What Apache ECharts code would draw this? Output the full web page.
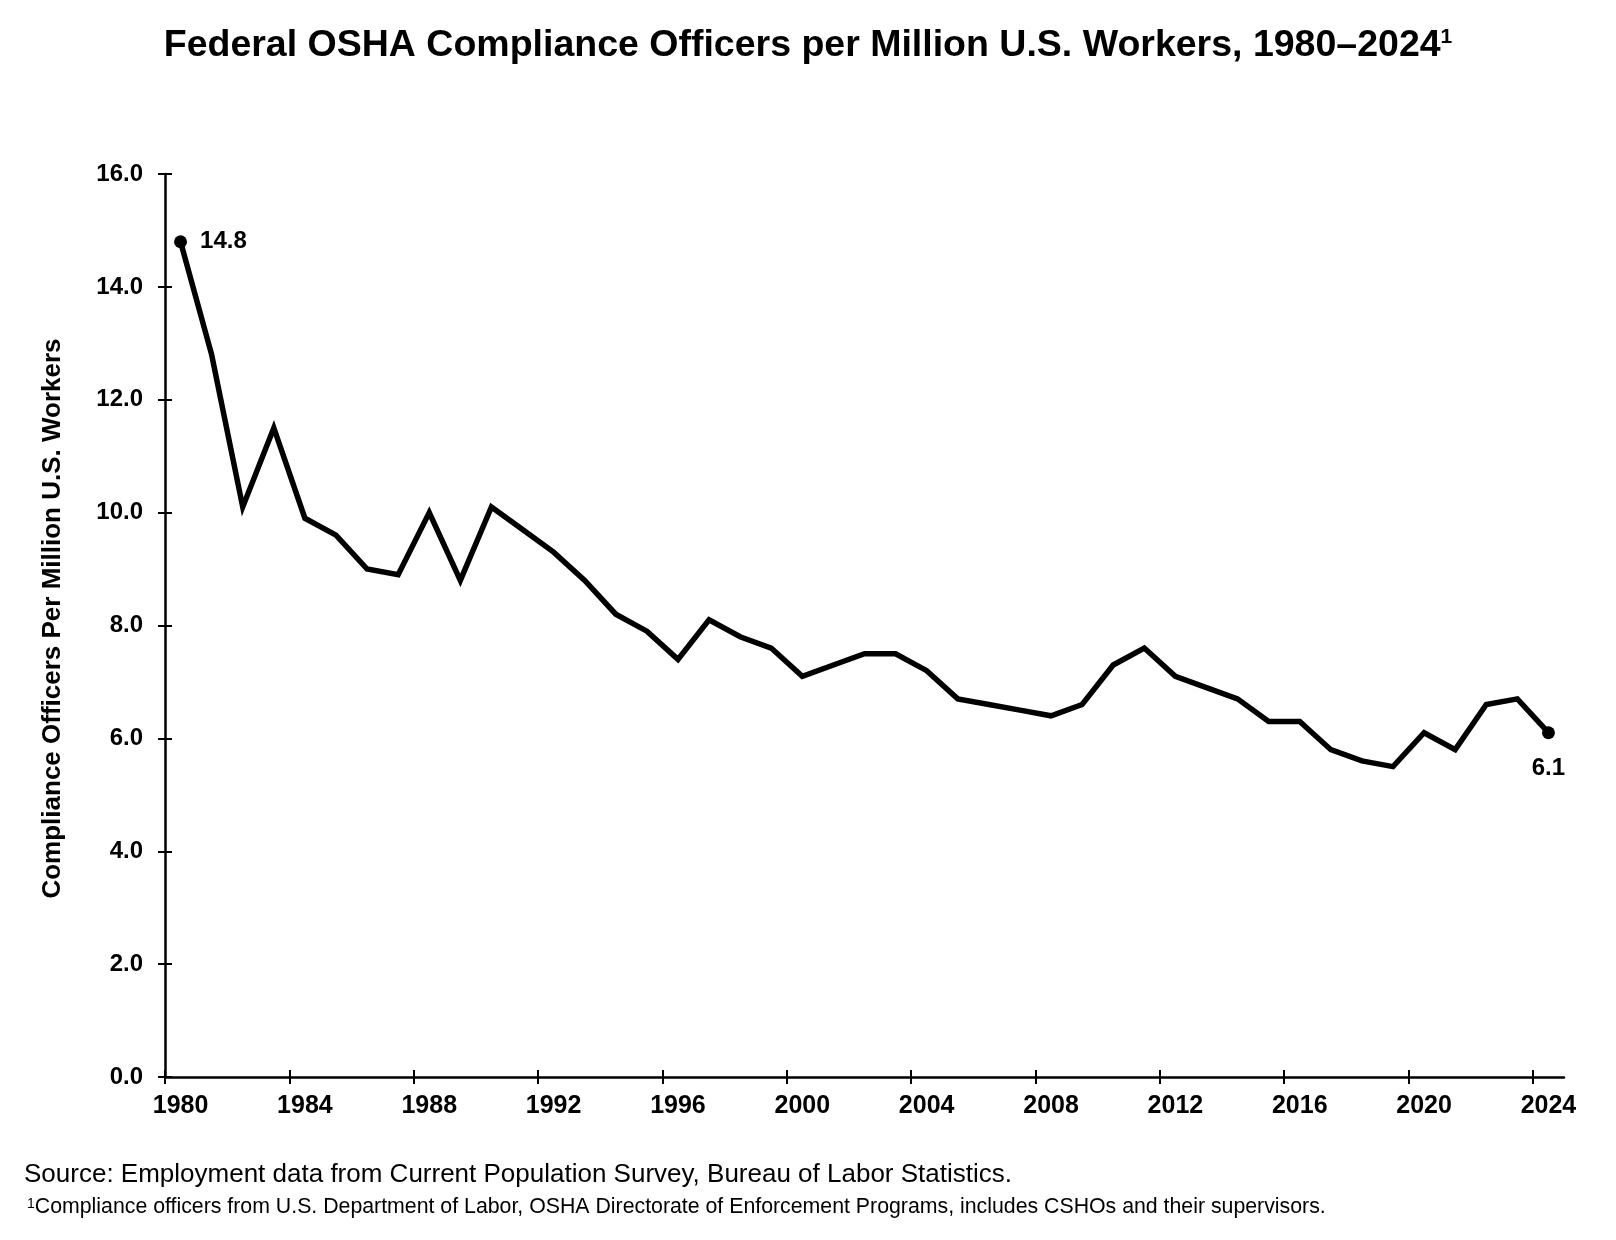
<!DOCTYPE html>
<html>
<head>
<meta charset="utf-8">
<title>Federal OSHA Compliance Officers</title>
<script src="https://cdn.jsdelivr.net/npm/echarts@6/dist/echarts.min.js"></script>
<style>
  body { margin: 0; background: #fff; }
  #chart { width: 1616px; height: 1240px; }
</style>
</head>
<body>
<div id="chart"></div>
<script>
  // data
  var years = ['1980', '1981', '1982', '1983', '1984', '1985', '1986', '1987', '1988', '1989',
    '1990', '1991', '1992', '1993', '1994', '1995', '1996', '1997', '1998', '1999',
    '2000', '2001', '2002', '2003', '2004', '2005', '2006', '2007', '2008', '2009',
    '2010', '2011', '2012', '2013', '2014', '2015', '2016', '2017', '2018', '2019',
    '2020', '2021', '2022', '2023', '2024'];
  var officersPerMillion = [14.8, 12.8, 10.1, 11.5, 9.9, 9.6, 9.0, 8.9, 10.0, 8.8,
    10.1, 9.7, 9.3, 8.8, 8.2, 7.9, 7.4, 8.1, 7.8, 7.6,
    7.1, 7.3, 7.5, 7.5, 7.2, 6.7, 6.6, 6.5, 6.4, 6.6,
    7.3, 7.6, 7.1, 6.9, 6.7, 6.3, 6.3, 5.8, 5.6, 5.5,
    6.1, 5.8, 6.6, 6.7, 6.1];
  var tickYears = [1980, 1984, 1988, 1992, 1996, 2000, 2004, 2008, 2012, 2016, 2020, 2024];
  var yTicks = [0, 2, 4, 6, 8, 10, 12, 14, 16];

  var font = 'Arial, "Liberation Sans", sans-serif';
  var last = officersPerMillion.length - 1;

  // only the first and last points get a dot and a label
  var seriesData = officersPerMillion.map(function (v, i) {
    if (i === 0) {
      return { value: v, symbolSize: 13, label: { show: true, position: 'right', distance: 13 } };
    }
    if (i === last) {
      return { value: v, symbolSize: 13, label: { show: true, position: 'bottom', distance: 17 } };
    }
    return { value: v, symbolSize: 0 };
  });

  var myChart = echarts.init(document.getElementById('chart'));
  var option = {
    backgroundColor: '#fff',
    animation: false,
    textStyle: { fontFamily: font },
    title: {
      text: 'Federal OSHA Compliance Officers per Million U.S. Workers, 1980\u20132024{sup|1}',
      left: 'center',
      top: 22,
      textStyle: {
        fontFamily: font,
        fontSize: 37.5,
        fontWeight: 'bold',
        color: '#000',
        rich: {
          sup: { fontSize: 21, fontWeight: 'bold', color: '#000', verticalAlign: 'top', fontFamily: font }
        }
      }
    },
    grid: { left: 165, right: 52, top: 174, bottom: 163 },
    xAxis: [
      {
        type: 'category',
        data: years,
        boundaryGap: true,
        axisLine: { lineStyle: { color: '#000', width: 2.5 } },
        axisTick: { show: false },
        axisLabel: {
          interval: 3,
          margin: 17,
          color: '#000',
          fontSize: 25,
          fontWeight: 'bold',
          fontFamily: font
        },
        splitLine: { show: false }
      },
      {
        // tick marks crossing the x axis at the start of every 4th year
        type: 'value',
        position: 'bottom',
        min: 1980,
        max: 2025,
        offset: -7,
        axisLine: { show: false },
        axisTick: { show: true, length: 14, customValues: tickYears, lineStyle: { color: '#000', width: 2 } },
        axisLabel: { show: false },
        splitLine: { show: false }
      }
    ],
    yAxis: [
      {
        type: 'value',
        min: 0,
        max: 16,
        interval: 2,
        name: 'Compliance Officers Per Million U.S. Workers',
        nameLocation: 'middle',
        nameGap: 99,
        nameTextStyle: { color: '#000', fontSize: 26, fontWeight: 'bold', fontFamily: font, padding: [0, 0, 0, 14] },
        axisLine: { show: true, lineStyle: { color: '#000', width: 2.5 } },
        axisTick: { show: false },
        axisLabel: {
          margin: 22,
          color: '#000',
          fontSize: 24,
          fontWeight: 'bold',
          fontFamily: font,
          formatter: function (v) { return v.toFixed(1); }
        },
        splitLine: { show: false }
      },
      {
        // crossing ticks for the y axis
        type: 'value',
        position: 'left',
        min: 0,
        max: 16,
        interval: 2,
        offset: -7,
        axisLine: { show: false },
        axisTick: { show: true, length: 14, customValues: yTicks, lineStyle: { color: '#000', width: 2 } },
        axisLabel: { show: false },
        splitLine: { show: false }
      }
    ],
    series: [
      {
        name: 'Compliance officers per million workers',
        type: 'line',
        xAxisIndex: 0,
        yAxisIndex: 0,
        data: seriesData,
        symbol: 'circle',
        showSymbol: true,
        lineStyle: { color: '#000', width: 5.5, join: 'miter' },
        itemStyle: { color: '#000' },
        label: {
          color: '#000',
          fontSize: 24,
          fontWeight: 'bold',
          fontFamily: font,
          formatter: function (p) { return p.value.toFixed(1); }
        }
      }
    ],
    graphic: [
      {
        type: 'text',
        left: 24,
        top: 1162,
        style: {
          text: 'Source: Employment data from Current Population Survey, Bureau of Labor Statistics.',
          fill: '#000',
          font: '26px ' + font
        }
      },
      {
        type: 'text',
        left: 27,
        top: 1197,
        style: {
          text: '{sup|1}Compliance officers from U.S. Department of Labor, OSHA Directorate of Enforcement Programs, includes CSHOs and their supervisors.',
          fill: '#000',
          font: '21.3px ' + font,
          rich: {
            sup: { fontSize: 14, verticalAlign: 'top', fill: '#000', fontFamily: font }
          }
        }
      }
    ]
  };
  // 绘制图表
  myChart.setOption(option);
</script>
</body>
</html>
